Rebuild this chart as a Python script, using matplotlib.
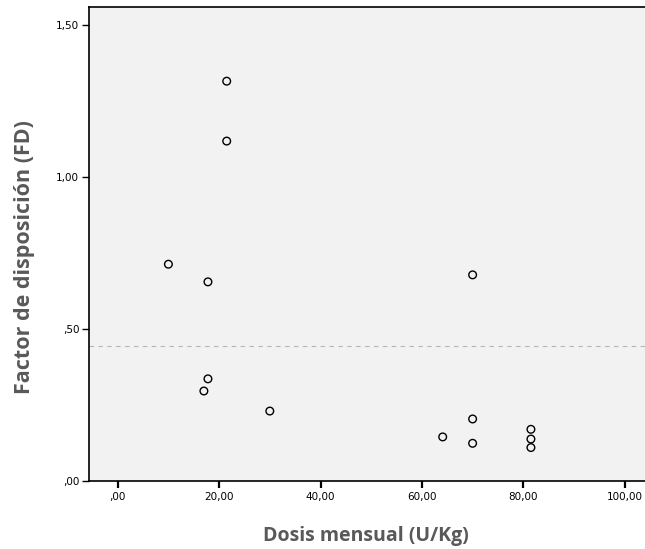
import matplotlib.pyplot as plt
from matplotlib.ticker import FuncFormatter

# monthly dose (U/Kg) vs disposition factor
dosis = [21.5, 21.5, 10.0, 17.8, 17.8, 17.0, 30.0, 64.1, 70.0, 70.0, 70.0, 81.5, 81.5, 81.5]
fd = [1.315, 1.118, 0.713, 0.655, 0.336, 0.296, 0.230, 0.145, 0.678, 0.204, 0.124, 0.170, 0.138, 0.110]
fd_ref = 0.444

x_ticks = [0, 20, 40, 60, 80, 100]
y_ticks = [0.0, 0.5, 1.0, 1.5]


def coma(v, pos=None):
    s = "%.2f" % v
    s = s.replace(".", ",")
    if s.startswith("0"):
        s = s[1:]
    return s


fig = plt.figure(figsize=(6.45, 5.49), dpi=100)
ax = fig.add_axes([89 / 645, 68 / 549, 556 / 645, 474 / 549])
ax.set_facecolor("#f2f2f2")

ax.scatter(dosis, fd, s=5.5 ** 2, facecolors="none", edgecolors="black", linewidths=1.0, zorder=3)
ax.axhline(fd_ref, color="#b4b4b4", linestyle=(0, (4, 4)), linewidth=0.8, zorder=2)

ax.set_xlim(-5.66, 104.0)
ax.set_ylim(0, 1.559)
ax.set_xticks(x_ticks)
ax.set_yticks(y_ticks)
ax.xaxis.set_major_formatter(FuncFormatter(coma))
ax.yaxis.set_major_formatter(FuncFormatter(coma))

for s in ["left", "bottom", "top"]:
    ax.spines[s].set_linewidth(1.2)
    ax.spines[s].set_color("black")
ax.spines["right"].set_visible(False)

ax.tick_params(axis="x", direction="out", length=5, width=1.6, labelsize=7.5, pad=3, colors="black")
ax.tick_params(axis="y", direction="out", length=5, width=1.0, labelsize=7.5, pad=2, colors="black")

# axis titles placed directly in figure pixels
fig.text(366 / 645, 1 - 536 / 549, "Dosis mensual (U/Kg)", fontsize=14, fontweight="bold",
         family="Open Sans", color="#595959", ha="center", va="center")
fig.text(25 / 645, 1 - 257 / 549, "Factor de disposición (FD)", fontsize=15.5, fontweight="bold",
         family="Open Sans", color="#595959", ha="center", va="center", rotation=90)

fig.savefig("out.png", dpi=100)
